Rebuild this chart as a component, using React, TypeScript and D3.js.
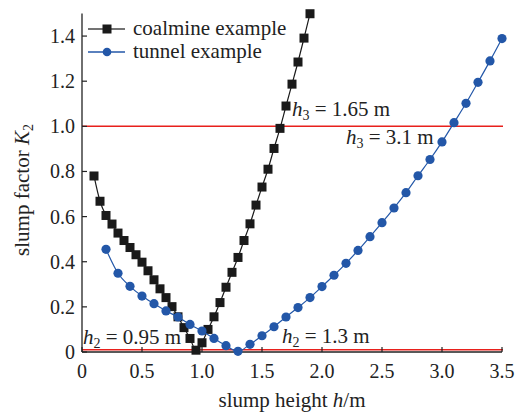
import React from "react";
import * as d3 from "d3";

const coalmineH = [0.1, 0.15, 0.2, 0.25, 0.3, 0.35, 0.4, 0.45, 0.5, 0.55, 0.6, 0.65, 0.7, 0.75, 0.8, 0.85, 0.9, 0.95, 1.0, 1.05, 1.1, 1.15, 1.2, 1.25, 1.3, 1.35, 1.4, 1.45, 1.5, 1.55, 1.6, 1.65, 1.7, 1.75, 1.8, 1.85, 1.9];
const coalmineK = [0.78, 0.668, 0.605, 0.567, 0.527, 0.494, 0.463, 0.431, 0.398, 0.36, 0.32, 0.28, 0.241, 0.201, 0.156, 0.108, 0.06, 0.008, 0.041, 0.1, 0.156, 0.219, 0.287, 0.353, 0.419, 0.494, 0.568, 0.651, 0.731, 0.81, 0.902, 0.991, 1.09, 1.187, 1.285, 1.391, 1.499];
const tunnelH = [0.2, 0.3, 0.4, 0.5, 0.6, 0.7, 0.8, 0.9, 1.0, 1.1, 1.2, 1.3, 1.4, 1.5, 1.6, 1.7, 1.8, 1.9, 2.0, 2.1, 2.2, 2.3, 2.4, 2.5, 2.6, 2.7, 2.8, 2.9, 3.0, 3.1, 3.2, 3.3, 3.4, 3.5];
const tunnelK = [0.455, 0.349, 0.291, 0.248, 0.214, 0.182, 0.155, 0.122, 0.093, 0.06, 0.028, 0.003, 0.034, 0.072, 0.112, 0.155, 0.197, 0.241, 0.29, 0.34, 0.393, 0.45, 0.511, 0.573, 0.638, 0.706, 0.781, 0.853, 0.931, 1.016, 1.102, 1.195, 1.29, 1.389];
const xTicks = [0, 0.5, 1.0, 1.5, 2.0, 2.5, 3.0, 3.5];
const xTickLabels = ["0", "0.5", "1.0", "1.5", "2.0", "2.5", "3.0", "3.5"];
const yTicks = [0, 0.2, 0.4, 0.6, 0.8, 1.0, 1.2, 1.4];
const yTickLabels = ["0", "0.2", "0.4", "0.6", "0.8", "1.0", "1.2", "1.4"];
const refLines = [1.0, 0.01];
const seriesNames = ["coalmine example", "tunnel example"];

const FONT = "Liberation Serif, serif";
const BLUE = "#2357a8";
const BLACK = "#1a1a1a";
const RED = "#e8201c";
const TXT = { fontFamily: FONT };

export default function App() {
  const x = d3.scaleLinear().domain([0, 3.5]).range([82, 502]);
  const y = d3.scaleLinear().domain([0, 1.5]).range([352, 13.5]);
  const line = d3
    .line<[number, number]>()
    .x((d) => x(d[0]))
    .y((d) => y(d[1]))
    .curve(d3.curveMonotoneX);
  const coal: [number, number][] = coalmineH.map((h, i) => [h, coalmineK[i]]);
  const tun: [number, number][] = tunnelH.map((h, i) => [h, tunnelK[i]]);
  const sq = 9;

  return (
    <svg
      width={524}
      height={412}
      style={{ position: "absolute", left: 0, top: 0, background: "#fff", fontFamily: FONT }}
    >
      {refLines.map((v, i) => (
        <line key={i} x1={x(0)} x2={x(3.5) + 1} y1={y(v)} y2={y(v)} stroke={RED} strokeWidth={1.5} />
      ))}

      <line x1={x(0)} x2={x(0)} y1={y(0)} y2={y(1.5)} stroke="#222" strokeWidth={1.3} />
      <line x1={x(0)} x2={x(3.5)} y1={y(0)} y2={y(0)} stroke="#222" strokeWidth={1.3} />
      {xTicks.map((t, i) => (
        <g key={"xt" + i}>
          <line x1={x(t)} x2={x(t)} y1={y(0)} y2={y(0) - 5} stroke="#222" strokeWidth={1.2} />
          <text x={x(t)} y={378} fontSize={20} textAnchor="middle" fill="#222" style={TXT}>
            {xTickLabels[i]}
          </text>
        </g>
      ))}
      {yTicks.map((t, i) => (
        <g key={"yt" + i}>
          <line x1={x(0)} x2={x(0) + 5} y1={y(t)} y2={y(t)} stroke="#222" strokeWidth={1.2} />
          <text x={75} y={y(t) + 7} fontSize={20} textAnchor="end" fill="#222" style={TXT}>
            {yTickLabels[i]}
          </text>
        </g>
      ))}

      <text x={292} y={407} fontSize={21} textAnchor="middle" fill="#222" style={TXT}>
        slump height <tspan fontStyle="italic">h</tspan>/m
      </text>
      <text transform="translate(29,190) rotate(-90)" fontSize={21} textAnchor="middle" fill="#222" style={TXT}>
        slump factor <tspan fontStyle="italic">K</tspan>
        <tspan fontSize={14} dy={4}>2</tspan>
      </text>

      <path d={line(coal) || ""} fill="none" stroke={BLACK} strokeWidth={1.2} />
      {coal.map((d, i) => (
        <rect key={"c" + i} x={x(d[0]) - sq / 2} y={y(d[1]) - sq / 2} width={sq} height={sq} fill={BLACK} />
      ))}

      <path d={line(tun) || ""} fill="none" stroke={BLUE} strokeWidth={1.2} />
      {tun.map((d, i) => (
        <circle key={"t" + i} cx={x(d[0])} cy={y(d[1])} r={4.6} fill={BLUE} />
      ))}

      <text x={292} y={116} fontSize={21} fill="#222" style={TXT}>
        <tspan fontStyle="italic">h</tspan>
        <tspan fontSize={14} dy={4}>3</tspan>
        <tspan dy={-4}> = 1.65 m</tspan>
      </text>
      <text x={346} y={144} fontSize={21} fill="#222" style={TXT}>
        <tspan fontStyle="italic">h</tspan>
        <tspan fontSize={14} dy={4}>3</tspan>
        <tspan dy={-4}> = 3.1 m</tspan>
      </text>
      <text x={83} y={344} fontSize={21} fill="#222" style={TXT}>
        <tspan fontStyle="italic">h</tspan>
        <tspan fontSize={14} dy={4}>2</tspan>
        <tspan dy={-4}> = 0.95 m</tspan>
      </text>
      <text x={282} y={343} fontSize={21} fill="#222" style={TXT}>
        <tspan fontStyle="italic">h</tspan>
        <tspan fontSize={14} dy={4}>2</tspan>
        <tspan dy={-4}> = 1.3 m</tspan>
      </text>

      <g>
        <line x1={88} x2={125} y1={29} y2={29} stroke="#444" strokeWidth={1.5} />
        <rect x={107 - 4.5} y={29 - 4.5} width={9} height={9} fill={BLACK} />
        <text x={133} y={35} fontSize={21} fill="#222" style={TXT}>{seriesNames[0]}</text>
        <line x1={88} x2={125} y1={52} y2={52} stroke={BLUE} strokeWidth={1.5} />
        <circle cx={107} cy={52} r={4.3} fill={BLUE} />
        <text x={133} y={58} fontSize={21} fill="#222" style={TXT}>{seriesNames[1]}</text>
      </g>
    </svg>
  );
}
